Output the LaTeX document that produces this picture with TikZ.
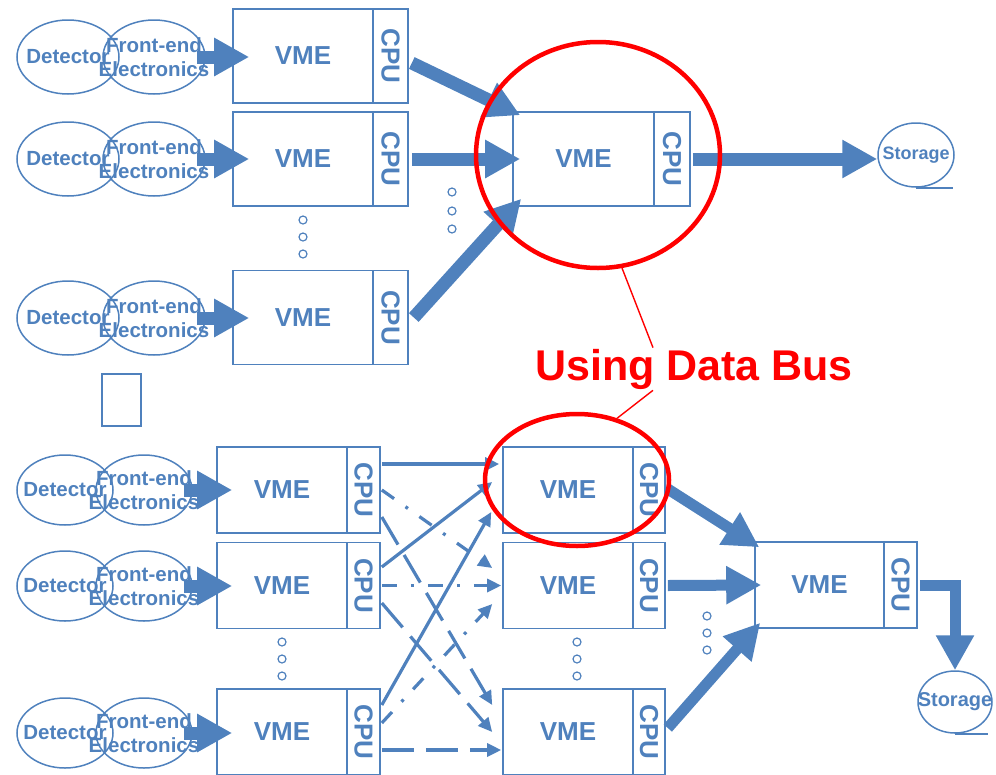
\documentclass[tikz,border=0pt]{standalone}
\usepackage{fontspec}
\setmainfont{Liberation Sans}
\usepackage{graphicx}
\usetikzlibrary{shapes.geometric,arrows.meta,calc}
\definecolor{bl}{RGB}{79,129,189}
\definecolor{rd}{RGB}{255,0,0}
\newcommand\myfs[2]{\fontsize{#1}{#2}\selectfont\bfseries}
\begin{document}
\begin{tikzpicture}[x=1pt,y=-1pt,
  box/.style={draw=bl,line width=1.6pt,rectangle,inner sep=0pt,text=bl,font=\myfs{26}{30}},
  ell/.style={ellipse,draw=bl,line width=1.5pt,inner sep=0pt},
  etext/.style={text=bl,font=\myfs{20.5}{24},align=center,inner sep=0pt},
  stext/.style={text=bl,font=\myfs{18}{22},inner sep=0pt},
  dotc/.style={circle,draw=bl,line width=1.2pt,minimum size=8pt,inner sep=0pt},
  fat/.style={draw=bl,line width=13pt,-{Triangle[length=35pt,width=36pt]}},
  fatb/.style={draw=bl,line width=11pt,-{Triangle[length=35pt,width=36pt]}},
  xa/.style={draw=bl,line width=3.2pt,-{Triangle[length=14pt,width=13pt]}},
  dd/.style={dash pattern=on 15pt off 14pt on 3pt off 14pt},
  ld/.style={dash pattern=on 32pt off 12pt},
  redring/.style={ellipse,draw=rd,line width=4.5pt,inner sep=0pt},
  redline/.style={draw=rd,line width=1.4pt}]
\useasboundingbox (0,0) rectangle (996,774);

% ---------------- top half ----------------
\foreach \r/\y in {1/56,2/159,3/317.5}{
  \node[box,minimum width=140pt,minimum height=94pt] (vT\r) at (303,\y) {VME};
  \node[box,minimum width=35pt,minimum height=94pt] (cT\r) at (390.5,\y) {\rotatebox{-90}{CPU}};
}
\foreach \r/\y in {1/57,2/159,3/318}{
  \node[ell,minimum width=102pt,minimum height=74pt] (dT\r) at (68,\y) {};
  \node[ell,minimum width=102pt,minimum height=74pt] (fT\r) at (154,\y) {};
  \node[etext] (dTt\r) at (dT\r) {Detector};
  \node[etext] (fTt\r) at (fT\r) {Front-end\\Electronics};
  \draw[fat] ($(fT\r.east)+(-9,0)$) -- ($(vT\r.west |- fT\r.east)+(17,0)$);
}
\node[box,minimum width=141pt,minimum height=94pt] (vT) at (583.5,159) {VME};
\node[box,minimum width=36pt,minimum height=94pt] (cT) at (672,159) {\rotatebox{-90}{CPU}};

\draw[fat] ($(cT1.east)+(3,7)$) -- ($(vT.north west)+(8,4)$);
\draw[fat] ($(cT2.east)+(3,0)$) -- ($(vT.west)+(8,0)$);
\draw[fat] ($(cT3.east)+(5,0)$) -- ($(vT.south west)+(9,-8)$);

\node[ell,minimum width=76pt,minimum height=64pt] (sT) at (916,155) {};
\node[stext] (sTt) at (sT) {Storage};
\draw[draw=bl,line width=1.5pt] (sT.south) -- ++(37,0);
\draw[fat] ($(cT.east)+(2,0)$) -- (sT.west |- cT.east);

\node[draw=bl,line width=1.6pt,minimum width=39pt,minimum height=52pt,inner sep=0pt] (sq) at (121.5,400) {};

% ---------------- bottom half ----------------
\foreach \r/\y in {1/490,2/585.5,3/732}{
  \node[box,minimum width=130pt,minimum height=86pt] (vL\r) at (282,\y) {VME};
  \node[box,minimum width=33pt,minimum height=86pt] (cL\r) at (363.5,\y) {\rotatebox{-90}{CPU}};
  \node[box,minimum width=130pt,minimum height=86pt] (vM\r) at (568,\y) {VME};
  \node[box,minimum width=32pt,minimum height=86pt] (cM\r) at (649,\y) {\rotatebox{-90}{CPU}};
}
\foreach \r/\y in {1/490,2/586,3/733}{
  \node[ell,minimum width=96pt,minimum height=70pt] (dB\r) at (65,\y) {};
  \node[ell,minimum width=96pt,minimum height=70pt] (fB\r) at (144,\y) {};
  \node[etext] (dBt\r) at (dB\r) {Detector};
  \node[etext] (fBt\r) at (fB\r) {Front-end\\Electronics};
  \draw[fat] ($(fB\r.east)+(-9,0)$) -- ($(vL\r.west |- fB\r.east)+(16,0)$);
}
\node[box,minimum width=129pt,minimum height=86pt] (vR) at (819.5,585) {VME};
\node[box,minimum width=33pt,minimum height=86pt] (cR) at (900.5,585) {\rotatebox{-90}{CPU}};

% cross connections
\draw[xa] ($(cL1.east)+(1,-26)$) -- ($(vM1.west)+(-3,-26)$);
\draw[xa] ($(cL2.east)+(1,-18.5)$) -- ($(vM1.west)+(-10,-8)$);
\draw[xa] ($(cL3.east)+(1,-27)$) -- ($(vM1.west)+(-11,22)$);
\draw[xa,dd] ($(cL1.east)+(1,0)$) -- ($(vM2.west)+(-10,-17.5)$);
\draw[xa,dd] ($(cL2.east)+(1,0)$) -- ($(vM2.west)+(-1,0)$);
\draw[xa,dd] ($(cL3.east)+(1,-9)$) -- ($(vM2.west)+(-10,18.5)$);
\draw[xa,ld] ($(cL1.east)+(1,27)$) -- ($(vM3.west)+(-10,-27)$);
\draw[xa,ld] ($(cL2.east)+(1,17.5)$) -- ($(vM3.west)+(-10,0)$);
\draw[xa,ld] ($(cL3.east)+(1,18)$) -- ($(vM3.west)+(-1,18)$);

% to right VME
\draw[fatb] ($(cM1.east)+(2,-1)$) -- ($(vR.north west)+(5,6)$);
\draw[fatb] ($(cM2.east)+(2,0)$) -- ($(vR.west)+(7,0)$);
\draw[fatb] ($(cM3.east)+(2,-4)$) -- ($(vR.south west)+(6,-6)$);

\node[ell,minimum width=74pt,minimum height=62pt] (sB) at (955,702) {};
\node[stext,font=\myfs{20}{24}] (sBt) at (sB) {Storage};
\draw[draw=bl,line width=1.5pt] (sB.south) -- ++(33,0);
\draw[fatb] ($(cR.east)+(2,0)$) -| (sB.north);

% dots
\foreach \i/\x/\y in {1/303/220,2/303/237,3/303/254,4/452/192,5/452/211,6/452/229,
  7/282/642,8/282/659,9/282/676,10/577/642,11/577/659,12/577/676,13/707/616,14/707/633,15/707/650}{
  \node[dotc] (dot\i) at (\x,\y) {};
}

% red annotation
\node[redring,minimum width=244pt,minimum height=226pt] (rc1) at (598,155) {};
\node[redring,minimum width=184pt,minimum height=132pt] (rc2) at (577,480) {};
\node[text=rd,font=\myfs{43}{50},inner sep=1pt,anchor=base] (lbl) at (694,380) {Using Data Bus};
\draw[redline] (rc1.-78) -- ($(lbl.north)+(-41,0)$);
\draw[redline] ($(lbl.south)+(-41,0)$) -- (rc2.57);
\end{tikzpicture}
\end{document}
